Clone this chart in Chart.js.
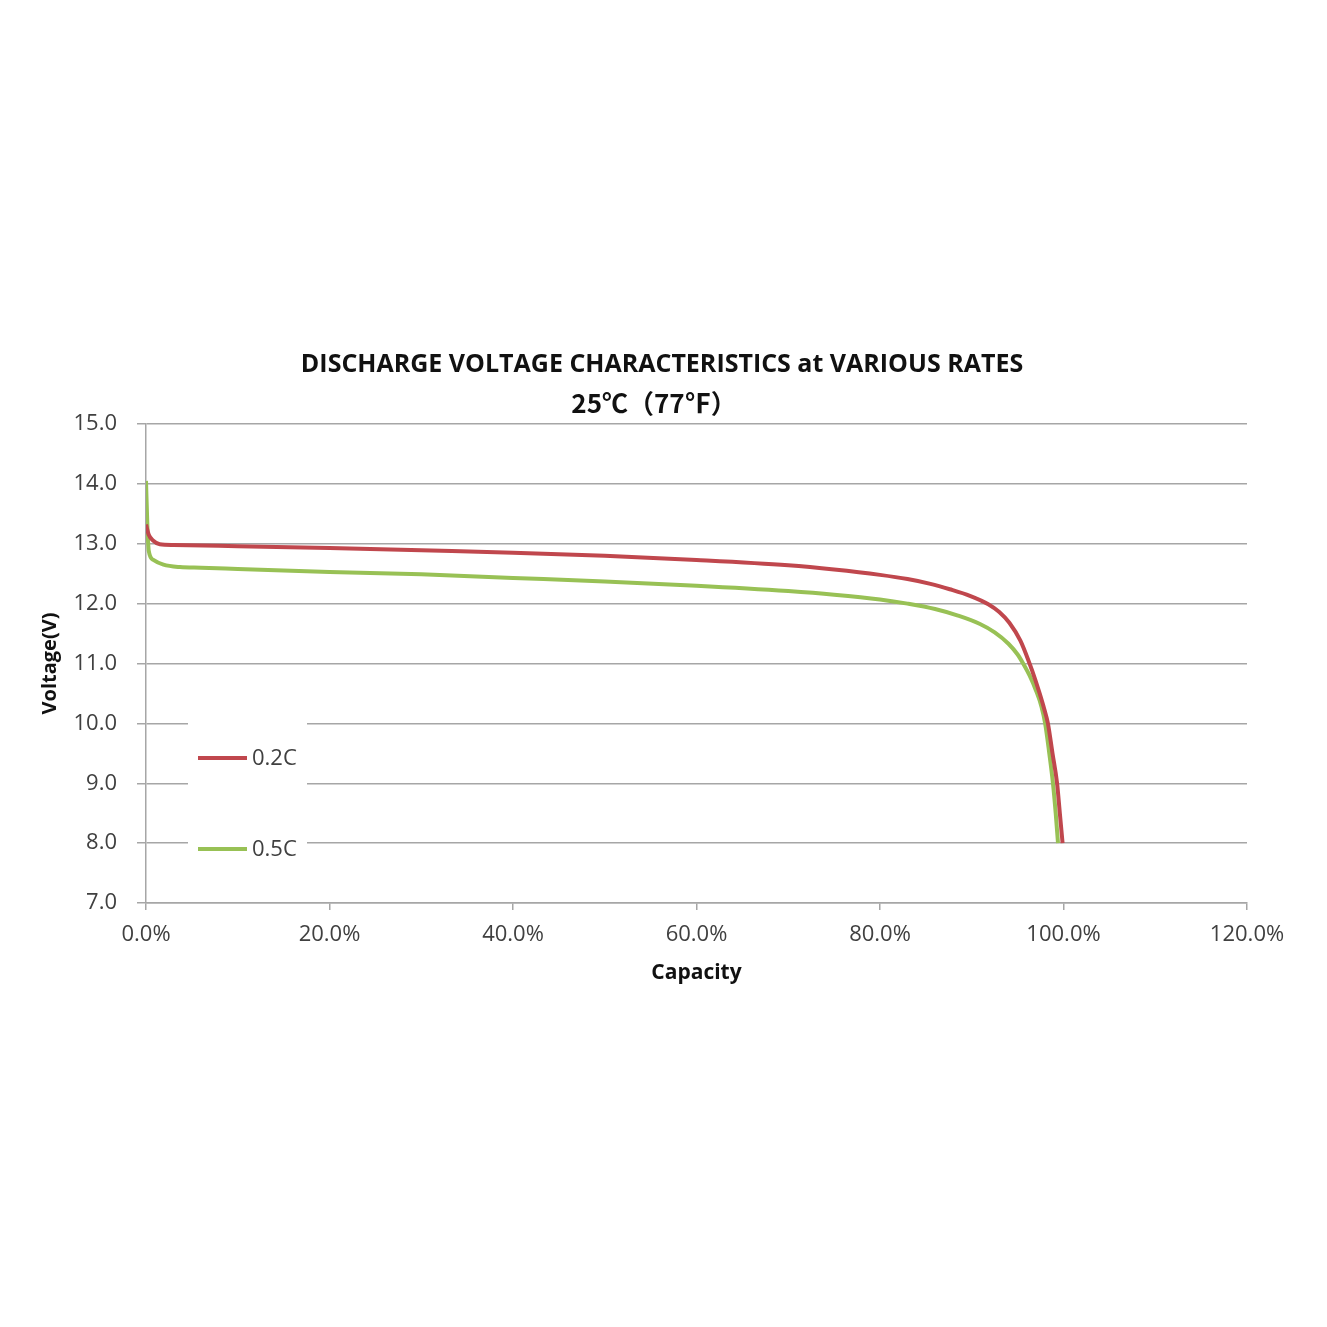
<!DOCTYPE html>
<html><head><meta charset="utf-8">
<script src="https://cdn.jsdelivr.net/npm/chart.js@4.4.0/dist/chart.umd.min.js"></script>
<style>html,body{margin:0;padding:0;background:#fff;}#wrap{width:1327px;height:1327px;}</style>
</head><body><div id="wrap"><canvas id="c" width="1327" height="1327"></canvas></div>
<script>
const chartTitle = ['DISCHARGE VOLTAGE CHARACTERISTICS at VARIOUS RATES', '25℃（77℉）'];
const xAxisTitle = 'Capacity';
const yAxisTitle = 'Voltage(V)';
const seriesLabels = ['0.2C', '0.5C'];
const capacity02 = [0, 0.3, 0.8, 1.5, 3, 10, 20, 30, 40, 50, 60, 70, 75, 80, 83, 85.5, 87.6, 89.8, 91.8, 93.0, 94.1, 95.3, 96.3, 96.9, 97.4, 97.9, 98.3, 98.8, 99.3, 99.6, 99.9];
const voltage02  = [13.32, 13.15, 13.05, 12.99, 12.98, 12.96, 12.93, 12.89, 12.85, 12.8, 12.73, 12.64, 12.57, 12.48, 12.41, 12.33, 12.24, 12.13, 11.99, 11.86, 11.68, 11.38, 11.0, 10.74, 10.5, 10.24, 10.0, 9.5, 9.0, 8.5, 8.0];
const capacity05 = [0, 0.15, 0.3, 0.8, 1.9, 3.7, 6, 10, 20, 30, 40, 50, 60, 70, 75, 80, 83, 86, 88.5, 90.9, 92.5, 94.0, 95.0, 95.6, 96.3, 97.0, 97.6, 98.0, 98.45, 98.85, 99.15, 99.4];
const voltage05  = [14.05, 13.3, 12.88, 12.73, 12.65, 12.61, 12.6, 12.58, 12.53, 12.49, 12.43, 12.37, 12.3, 12.21, 12.15, 12.07, 12.0, 11.91, 11.8, 11.66, 11.52, 11.33, 11.15, 11.0, 10.8, 10.55, 10.28, 10.0, 9.5, 9.0, 8.5, 8.0];
const xTicks = [0, 20, 40, 60, 80, 100, 120];
const yTicks = [7, 8, 9, 10, 11, 12, 13, 14, 15];

const GRID = '#a6a6a6';
const TXT = '#404040';
const FONT = "'Open Sans', 'Noto Sans', sans-serif";
const colors = ['#C0474D', '#98C155'];

const decor = {
  id: 'decor',
  beforeDraw(chart) {
    const c = chart.ctx; c.save(); c.fillStyle = '#fff'; c.fillRect(0, 0, chart.width, chart.height); c.restore();
  },
  afterDraw(chart) {
    const ctx = chart.ctx, a = chart.chartArea;
    ctx.save();
    ctx.fillStyle = '#111'; ctx.textAlign = 'center'; ctx.textBaseline = 'middle';
    ctx.font = "bold 25px 'Open Sans', 'Noto Sans CJK SC', sans-serif";
    ctx.fillText(chartTitle[0], 662, 365);
    ctx.font = "bold 26px 'Noto Sans CJK SC', sans-serif";
    ctx.fillText(chartTitle[1], 654, 403);
    // legend
    ctx.fillStyle = '#fff';
    ctx.fillRect(a.left + 42, a.top + 281, 119, 165);
    const rows = [a.top + 334, a.top + 425];
    chart.data.datasets.forEach((ds, i) => {
      ctx.strokeStyle = ds.borderColor; ctx.lineWidth = 4;
      ctx.beginPath(); ctx.moveTo(a.left + 52, rows[i]); ctx.lineTo(a.left + 101, rows[i]); ctx.stroke();
      ctx.fillStyle = TXT; ctx.textAlign = 'left'; ctx.textBaseline = 'middle';
      ctx.font = "22px " + FONT;
      ctx.fillText(ds.label, a.left + 106, rows[i] + 1);
    });
    ctx.restore();
  }
};

const toPts = (xs, ys) => xs.map((x, i) => ({x: x, y: ys[i]}));

new Chart(document.getElementById('c'), {
  type: 'line',
  data: {
    datasets: [
      {label: seriesLabels[0], data: toPts(capacity02, voltage02), borderColor: colors[0], backgroundColor: colors[0]},
      {label: seriesLabels[1], data: toPts(capacity05, voltage05), borderColor: colors[1], backgroundColor: colors[1]}
    ]
  },
  options: {
    responsive: false, devicePixelRatio: 1, animation: false,
    layout: {padding: {top: 424, left: 38, right: 80, bottom: 341}},
    elements: {point: {radius: 0}, line: {borderWidth: 4, cubicInterpolationMode: 'monotone'}},
    plugins: {legend: {display: false}, title: {display: false}, tooltip: {enabled: false}},
    scales: {
      x: {
        type: 'linear', min: 0, max: 120,
        afterBuildTicks: s => { s.ticks = xTicks.map(v => ({value: v})); },
        afterFit: s => { s.height = 83; },
        ticks: {padding: 12, color: TXT, font: {family: FONT, size: 22}, callback: v => v.toFixed(1) + '%'},
        grid: {drawOnChartArea: false, drawTicks: true, tickLength: 7, color: GRID, lineWidth: 1.5},
        border: {display: true, color: GRID, width: 1.5},
        title: {display: true, text: xAxisTitle, color: '#111', padding: 0, font: {family: FONT, size: 21, weight: 'bold'}}
      },
      y: {
        type: 'linear', min: 7, max: 15,
        afterBuildTicks: s => { s.ticks = yTicks.map(v => ({value: v})); },
        afterFit: s => { s.width = 108; },
        ticks: {padding: 20, color: TXT, font: {family: FONT, size: 22}, callback: v => v.toFixed(1)},
        grid: {drawOnChartArea: true, drawTicks: true, tickLength: 9, color: GRID, lineWidth: 1.5},
        border: {display: true, color: GRID, width: 1.5},
        title: {display: true, text: yAxisTitle, color: '#111', padding: 0, font: {family: FONT, size: 20, weight: 'bold'}}
      }
    }
  },
  plugins: [decor]
});
</script>
</body></html>
